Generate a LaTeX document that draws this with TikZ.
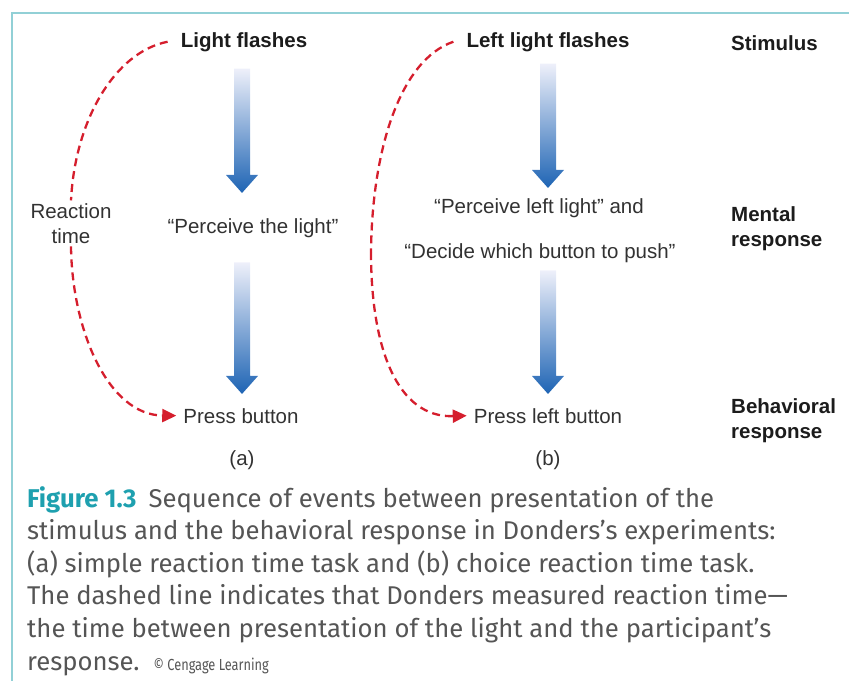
\documentclass[tikz,border=0pt]{standalone}
\usepackage{fontspec}
\setmainfont{Liberation Sans}
\newfontfamily\capfont{Fira Sans}
\newfontfamily\credfont[FakeStretch=0.8]{Fira Sans}
\usetikzlibrary{arrows.meta,calc}

\definecolor{framecol}{RGB}{146,208,214}
\definecolor{rtred}{RGB}{213,30,45}
\definecolor{arrowblue}{RGB}{30,100,180}
\definecolor{arrowtop}{RGB}{238,240,250}
\definecolor{textgray}{RGB}{50,50,50}
\definecolor{headblack}{RGB}{28,28,28}
\definecolor{capgray}{RGB}{85,85,85}
\definecolor{figteal}{RGB}{30,160,175}

\newcommand{\flowarrow}[3]{%
  \shade[top color=arrowtop, bottom color=arrowblue]
    let \p1=(#1), \p2=(#2), \p3=(#3) in
    (\x1-8pt,\y2) -- (\x1+8pt,\y2) -- (\x1+8pt,\y3+18pt) -- (\x1+16pt,\y3+18pt)
    -- (\x1,\y3) -- (\x1-16pt,\y3+18pt) -- (\x1-8pt,\y3+18pt) -- cycle;}

\begin{document}
\begin{tikzpicture}[x=1pt, y=-1pt,
    lbl/.style={anchor=base, inner sep=3pt, text=textgray, font=\fontsize{20.5}{24.5}\selectfont},
    head/.style={lbl, text=headblack, font=\bfseries\fontsize{20.5}{24.5}\selectfont},
    side/.style={head, anchor=base west, align=left},
    rt/.style={rtred, line width=2.3pt, dash pattern=on 8pt off 5pt},
    rtend/.style={rt, -{Triangle[length=14pt,width=13pt]}}]
  \useasboundingbox (0,0) rectangle (849,681);

  \draw[framecol, line width=2pt] (849,13) -- (12,13) -- (12,681);

  \node[head] (lighta) at (244,47) {Light flashes};
  \node[lbl] (perca) at (253,233) {“Perceive the light”};
  \node[lbl] (pressa) at (241,423) {Press button};
  \node[lbl] (taga) at (242,465) {(a)};
  \node[lbl, align=center] (rta) at (71,243) {Reaction\\time};

  \node[head] (lightb) at (548,47) {Left light flashes};
  \node[lbl] (percb) at (539,213) {“Perceive left light” and};
  \node[lbl] (decb) at (540,258) {“Decide which button to push”};
  \node[lbl] (pressb) at (548,423) {Press left button};
  \node[lbl] (tagb) at (548,465) {(b)};

  \node[side] (stim) at (728,50) {Stimulus};
  \node[side] (ment) at (728,246) {Mental\\response};
  \node[side] (behav) at (728,438) {Behavioral\\response};

  \flowarrow{taga}{[yshift=-14pt]lighta.south}{[yshift=22pt]perca.north}
  \flowarrow{taga}{[yshift=-22pt]perca.south}{[yshift=11pt]pressa.north}
  \flowarrow{tagb}{[yshift=-9pt]lightb.south}{[yshift=7pt]percb.north}
  \flowarrow{tagb}{[yshift=-5pt]decb.south}{[yshift=11pt]pressb.north}

  \coordinate (rtb) at (371,252);
  \draw[rt] ([xshift=-10pt]lighta.west) .. controls (115,52) and (75,120) .. (rta.north);
  \draw[rtend] (rta.south) .. controls (72,330) and (108,415) .. ([xshift=-4pt]pressa.west);
  \draw[rt] ([xshift=-10pt]lightb.west) .. controls (400,60) and (372,150) .. (rtb);
  \draw[rtend] (rtb) .. controls (371,350) and (398,418) .. ([xshift=-4pt]pressb.west);

  \node[anchor=base west, inner sep=0pt, align=left, text=capgray,
    font=\capfont\fontsize{25.7}{32.6}\selectfont] (caption) at (27,670)
    {\textcolor{figteal}{\textbf{Figure 1.3}}\hspace{12pt}Sequence of events between presentation of the\\
     stimulus and the behavioral response in Donders’s experiments:\\
     (a) simple reaction time task and (b) choice reaction time task.\\
     The dashed line indicates that Donders measured reaction time—\\
     the time between presentation of the light and the participant’s\\
     response.\hspace{14pt}{\credfont\fontsize{16}{18}\selectfont © Cengage Learning}};
\end{tikzpicture}
\end{document}
